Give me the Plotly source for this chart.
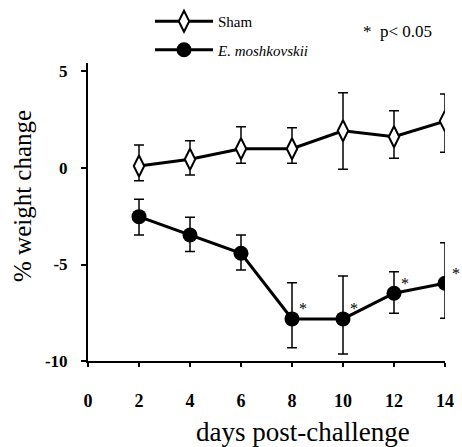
import plotly.graph_objects as go

days = [2, 4, 6, 8, 10, 12, 14]
x_ticks = [0, 2, 4, 6, 8, 10, 12, 14]
y_ticks = [-10, -5, 0, 5]

sham_mean = [0.1, 0.45, 1.0, 1.0, 1.93, 1.62, 2.43]
sham_plus = [1.09, 0.96, 1.14, 1.09, 1.97, 1.35, 1.4]
sham_minus = [0.76, 0.81, 0.76, 0.76, 2.0, 1.12, 1.62]

em_mean = [-2.52, -3.47, -4.42, -7.82, -7.82, -6.49, -5.97]
em_plus = [0.9, 0.92, 0.95, 1.88, 2.22, 1.12, 2.1]
em_minus = [0.95, 0.86, 0.86, 1.49, 1.82, 1.04, 1.82]
em_sig = [False, False, False, True, True, True, True]

SERIF = "Liberation Serif"

fig = go.Figure()
fig.add_trace(go.Scatter(
    x=days, y=sham_mean, mode="lines+markers", name="Sham",
    legendgroup="a",
    line=dict(color="black", width=3),
    marker=dict(symbol="diamond-tall", size=15, color="white",
                line=dict(color="black", width=2)),
    error_y=dict(type="data", array=sham_plus, arrayminus=sham_minus,
                 color="black", thickness=1.5, width=5),
))
fig.add_trace(go.Scatter(
    x=days, y=em_mean, mode="lines+markers", name="<i>E. moshkovskii</i>",
    legendgroup="b",
    line=dict(color="black", width=3),
    marker=dict(symbol="circle", size=15, color="black"),
    error_y=dict(type="data", array=em_plus, arrayminus=em_minus,
                 color="black", thickness=1.5, width=5),
))

annotations = []
for d, m, s in zip(days, em_mean, em_sig):
    if s:
        annotations.append(dict(x=d, y=m, xref="x", yref="y", text="*",
                                showarrow=False, xshift=11, yshift=10,
                                font=dict(family=SERIF, size=16, color="black")))

annotations.append(dict(x=(303 - 88) / 357, y=0, xref="paper", yref="paper",
                        text="days post-challenge", showarrow=False,
                        yshift=-71, yanchor="middle", xanchor="center",
                        font=dict(family=SERIF, size=27, color="black")))
annotations.append(dict(x=0, y=(361 - 196) / 298, xref="paper", yref="paper",
                        text="% weight change", showarrow=False, textangle=-90,
                        xshift=-66, xanchor="center", yanchor="middle",
                        font=dict(family=SERIF, size=25, color="black")))
annotations.append(dict(x=(397 - 88) / 357, y=1 + (63 - 32) / 298,
                        xref="paper", yref="paper", text="*  p< 0.05",
                        showarrow=False, xanchor="center", yanchor="middle",
                        font=dict(family=SERIF, size=17, color="black")))

fig.update_layout(
    width=462, height=447,
    margin=dict(l=88, r=17, t=63, b=86, autoexpand=False),
    plot_bgcolor="white", paper_bgcolor="white",
    showlegend=True,
    legend=dict(x=(150 - 88) / 357, y=1 + (63 - 5) / 298,
                xanchor="left", yanchor="top", itemwidth=58,
                font=dict(family=SERIF, size=15, color="black"),
                tracegroupgap=6, bgcolor="rgba(0,0,0,0)"),
    annotations=annotations,
    xaxis=dict(range=[0, 14], tickvals=x_ticks, ticktext=[str(t) for t in x_ticks],
               showline=True, linecolor="black", linewidth=2,
               ticks="outside", ticklen=4, tickwidth=2, tickcolor="black",
               showgrid=False, zeroline=False, ticklabelstandoff=18,
               tickfont=dict(family=SERIF, size=18, color="black", weight="bold")),
    yaxis=dict(range=[-10, 5.44], tickvals=y_ticks, ticktext=[str(t) for t in y_ticks],
               showline=True, linecolor="black", linewidth=2,
               ticks="outside", ticklen=5, tickwidth=1.5, tickcolor="black",
               showgrid=False, zeroline=False, ticklabelstandoff=10,
               tickfont=dict(family=SERIF, size=17, color="black", weight="bold")),
)

fig.write_html("out.html", config={"displayModeBar": False},
               post_script="document.body.style.margin='0';")
